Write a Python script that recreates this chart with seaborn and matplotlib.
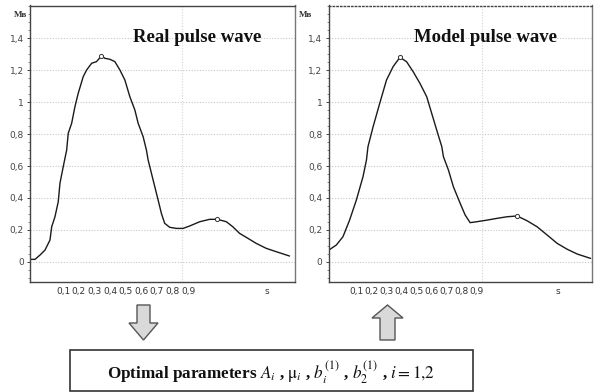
import numpy as np
import pandas as pd
import matplotlib
matplotlib.use("Agg")
import matplotlib.pyplot as plt
import seaborn as sns
from matplotlib.patches import Polygon, Rectangle
from matplotlib.transforms import Affine2D
from matplotlib.ticker import MultipleLocator

# ---------------- data ----------------
real_t = [-0.113, -0.081, -0.049, -0.017, 0.015, 0.026, 0.047, 0.068, 0.079, 0.100,
          0.122, 0.132, 0.154, 0.175, 0.196, 0.228, 0.250, 0.282, 0.313, 0.345,
          0.367, 0.399, 0.431, 0.463, 0.495, 0.527, 0.559, 0.580, 0.612, 0.633,
          0.644, 0.676, 0.708, 0.729, 0.750, 0.782, 0.825, 0.868, 0.910, 0.975,
          1.039, 1.088, 1.145, 1.187, 1.230, 1.273, 1.337, 1.401, 1.465, 1.550]
real_v = [0.015, 0.015, 0.042, 0.073, 0.136, 0.219, 0.282, 0.376, 0.492, 0.596,
          0.700, 0.805, 0.868, 0.972, 1.056, 1.160, 1.202, 1.244, 1.254, 1.290,
          1.275, 1.269, 1.254, 1.202, 1.139, 1.034, 0.951, 0.868, 0.784, 0.700,
          0.638, 0.512, 0.387, 0.303, 0.241, 0.216, 0.209, 0.209, 0.224, 0.251,
          0.266, 0.266, 0.251, 0.219, 0.178, 0.153, 0.115, 0.084, 0.063, 0.036]

model_t = [-0.083, -0.033, 0.011, 0.055, 0.100, 0.144, 0.167, 0.177, 0.211, 0.255,
           0.300, 0.344, 0.389, 0.433, 0.477, 0.522, 0.567, 0.600, 0.633, 0.667,
           0.678, 0.711, 0.744, 0.789, 0.822, 0.855, 0.900, 0.967, 1.033, 1.100,
           1.167, 1.233, 1.300, 1.367, 1.433, 1.500, 1.567, 1.655]
model_v = [0.073, 0.105, 0.157, 0.261, 0.387, 0.533, 0.638, 0.721, 0.846, 0.993,
           1.139, 1.223, 1.281, 1.254, 1.191, 1.118, 1.034, 0.930, 0.826, 0.721,
           0.658, 0.575, 0.470, 0.366, 0.293, 0.245, 0.251, 0.261, 0.272, 0.282,
           0.287, 0.257, 0.219, 0.167, 0.115, 0.078, 0.048, 0.021]

real_marks_t = [0.345, 1.088]
real_marks_v = [1.290, 0.266]
model_marks_t = [0.389, 1.167]
model_marks_v = [1.281, 0.287]

x_tick_values = [0.1, 0.2, 0.3, 0.4, 0.5, 0.6, 0.7, 0.8, 0.9]
x_tick_labels = ["0,1", "0,2", "0,3", "0,4", "0,5", "0,6", "0,7", "0,8", "0,9"]
x_unit = "s"
y_tick_values = [0, 0.2, 0.4, 0.6, 0.8, 1.0, 1.2, 1.4]
y_tick_labels = ["0", "0,2", "0,4", "0,6", "0,8", "1", "1,2", "1,4"]
y_unit = "Мв"
titles = ["Real pulse wave", "Model pulse wave"]
box_text = (r"Optimal parameters $A_i$ , $\mathrm{\mu}_i$ , "
            r"$b_i^{(1)}$ , $b_2^{(1)}$ , $i=1{,}2$")

# ---------------- layout / style ----------------
W, H = 594, 392
sns.set_style("white")
plt.rcParams["font.family"] = ["DejaVu Sans"]
plt.rcParams["mathtext.fontset"] = "stix"

fig = plt.figure(figsize=(W / 100, H / 100), dpi=100)
pix = Affine2D().scale(1 / W, -1 / H).translate(0, 1) + fig.transFigure


def px_axes(x0, y0, x1, y1):
    return fig.add_axes([x0 / W, 1 - y1 / H, (x1 - x0) / W, (y1 - y0) / H])


panels = [
    dict(rect=(30, 5.5, 294.5, 281.7), xlim=(-0.113, 1.582), unit_pos=1.403,
         vgrid=0.859, t=real_t, v=real_v, mt=real_marks_t, mv=real_marks_v,
         title_x=197, unit_px=21, top_ls="-"),
    dict(rect=(328.5, 5.5, 591.7, 281.7), xlim=(-0.085, 1.662), unit_pos=1.435,
         vgrid=0.935, t=model_t, v=model_v, mt=model_marks_t, mv=model_marks_v,
         title_x=486, unit_px=306, top_ls=":"),
]

for i, p in enumerate(panels):
    ax = px_axes(*p["rect"])
    df = pd.DataFrame({"t": p["t"], "v": p["v"]})
    sns.lineplot(data=df, x="t", y="v", ax=ax, color="#1a1a1a", lw=1.0,
                 sort=False, estimator=None)
    mk = pd.DataFrame({"t": p["mt"], "v": p["mv"]})
    sns.scatterplot(data=mk, x="t", y="v", ax=ax, s=9, facecolor="white",
                    edgecolor="#333333", linewidth=0.7, zorder=5)
    ax.set_xlim(*p["xlim"])
    ax.set_ylim(-0.125, 1.606)
    ax.set_xlabel("")
    ax.set_ylabel("")
    ax.set_xticks(x_tick_values + [p["unit_pos"]])
    ax.set_xticklabels(x_tick_labels + [x_unit])
    ax.set_yticks(y_tick_values)
    ax.set_yticklabels(y_tick_labels)
    ax.yaxis.set_minor_locator(MultipleLocator(0.05))
    ax.tick_params(axis="x", length=0, pad=4, labelsize=6.5, colors="#333333")
    ax.tick_params(axis="y", which="major", length=2.5, width=0.7, pad=2,
                   labelsize=6.5, colors="#444444", direction="out", left=True)
    ax.tick_params(axis="y", which="minor", length=1.5, width=0.6,
                   color="#777777", direction="out", left=True)
    for yv in y_tick_values:
        ax.axhline(yv, color="#c4c4c4", lw=0.8, ls=(0, (1, 1.5)), zorder=0)
    ax.axvline(p["vgrid"], color="#d4d4d4", lw=0.8, ls=(0, (1, 1.5)), zorder=0)
    for side, sp in ax.spines.items():
        sp.set_visible(True)
        sp.set_color("#444444")
        sp.set_linewidth(1.0)
    ax.spines["top"].set_linestyle(p["top_ls"])
    ax.spines["right"].set_color("#777777")
    fig.text(p["title_x"], 37, titles[i], transform=pix, ha="center",
             va="center", fontsize=13.5, fontweight="bold",
             family=["Liberation Serif"], color="#111111")
    fig.text(p["unit_px"], 15, y_unit, transform=pix, ha="center",
             va="center", fontsize=6.5, fontweight="bold",
             family=["Liberation Serif"], color="#333333")

# arrows
down = [(137, 305), (150, 305), (150, 323), (158, 323), (143.5, 340),
        (129, 323), (137, 323)]
up = [(380, 340), (395, 340), (395, 318), (403, 318), (387.5, 305),
      (372, 318), (380, 318)]
for poly in (down, up):
    fig.patches.append(Polygon(poly, closed=True, transform=pix,
                               facecolor="#d9d9d9", edgecolor="#555555",
                               lw=1.0))

fig.patches.append(Rectangle((70, 350), 403, 41.5, transform=pix,
                             facecolor="white", edgecolor="#333333", lw=1.2))
fig.text(271, 373, box_text, transform=pix, ha="center", va="center",
         fontsize=12.3, fontweight="bold", family=["Liberation Serif"],
         color="#111111")

fig.savefig("out.png", dpi=100)
